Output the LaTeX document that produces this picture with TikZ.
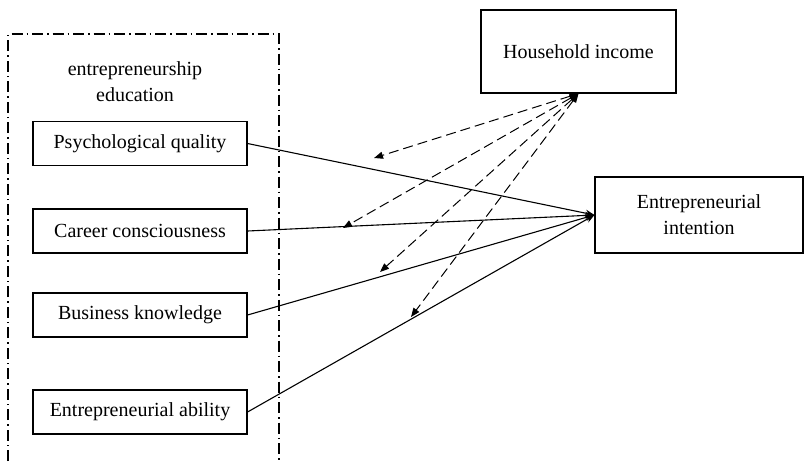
\documentclass[tikz,border=0pt]{standalone}
\usepackage{fontspec}
\setmainfont{Liberation Serif}
\usetikzlibrary{
  positioning,
  arrows.meta
}

\begin{document}
\begin{tikzpicture}[
  x=1pt, y=-1pt,
  box/.style={draw, line width=1.1pt, align=center, inner sep=0pt,
              font=\fontsize{20}{26}\selectfont},
  dim/.style={box, minimum width=214pt, minimum height=44pt},
  path/.style={-{Stealth[length=9pt, width=7pt]}, line width=1.1pt},
  moder/.style={{Triangle[length=9pt, width=7pt]}-{Triangle[length=9pt, width=7pt]},
                line width=1pt, dash pattern=on 10pt off 5pt}
]
  \useasboundingbox (0,0) rectangle (805,461);

  % Frame of entrepreneurship education
  \draw[line width=1.1pt, dash pattern=on 11pt off 4pt on 1.5pt off 4pt]
    (8,461) -- (8,34) -- (279,34) -- (279,461);
  \node[font=\fontsize{20}{26}\selectfont, align=center] (edu) at (135,82)
    {entrepreneurship\\education};

  % Dimensions
  \node[dim] (psy) at (140,143.5) {Psychological quality};
  \node[dim] (car) at (140,231) {Career consciousness};
  \node[dim] (bus) at (140,315) {Business knowledge};
  \node[dim] (abl) at (140,412) {Entrepreneurial ability};

  % Moderator and outcome
  \node[box, minimum width=195pt, minimum height=83pt] (inc) at (578.5,51.5)
    {Household income};
  \node[box, minimum width=208pt, minimum height=76pt] (int) at (699,215)
    {Entrepreneurial\\intention};

  \draw[path] (psy.east) -- (int.west);
  \draw[path] (car.east) -- (int.west);
  \draw[path] (bus.east) -- (int.west);
  \draw[path] (abl.east) -- (int.west);

  % Moderating effects
  \coordinate (m1) at (374,158);
  \coordinate (m2) at (343,228);
  \coordinate (m3) at (380,272);
  \coordinate (m4) at (411,317);
  \draw[moder] (inc.south) -- (m1);
  \draw[moder] (inc.south) -- (m2);
  \draw[moder] (inc.south) -- (m3);
  \draw[moder] (inc.south) -- (m4);
\end{tikzpicture}
\end{document}
